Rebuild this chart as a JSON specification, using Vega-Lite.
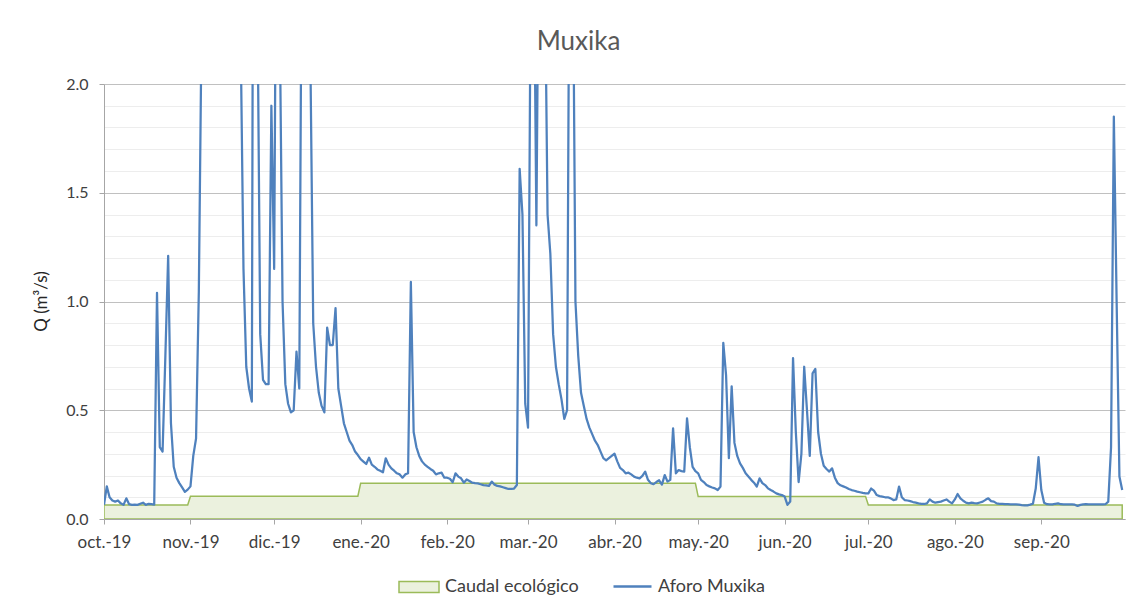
{
"$schema": "https://vega.github.io/schema/vega-lite/v6.json",
"width": 1021, "height": 435,
"autosize": {"type": "none"},
"padding": {"left": 104, "top": 84, "right": 19, "bottom": 95},
"background": "white",
"config": {"font": "Lato", "view": {"stroke": null}},
"title": {"text": "Muxika", "fontSize": 26, "font": "Lato", "fontWeight": "normal", "color": "#595959", "anchor": "middle", "dx": -36, "offset": 0, "baseline": "alphabetic"},
"data": {"values": [
{"f":"2019-10-01","q":0.065,"c":0.064},{"f":"2019-10-02","q":0.15,"c":0.064},{"f":"2019-10-03","q":0.10,"c":0.064},{"f":"2019-10-04","q":0.085,"c":0.064},{"f":"2019-10-05","q":0.08,"c":0.064},{"f":"2019-10-06","q":0.085,"c":0.064},{"f":"2019-10-07","q":0.072,"c":0.064},{"f":"2019-10-08","q":0.065,"c":0.064},{"f":"2019-10-09","q":0.095,"c":0.064},{"f":"2019-10-10","q":0.068,"c":0.064},{"f":"2019-10-11","q":0.065,"c":0.064},{"f":"2019-10-12","q":0.066,"c":0.064},{"f":"2019-10-13","q":0.065,"c":0.064},{"f":"2019-10-14","q":0.07,"c":0.064},{"f":"2019-10-15","q":0.075,"c":0.064},{"f":"2019-10-16","q":0.065,"c":0.064},{"f":"2019-10-17","q":0.07,"c":0.064},{"f":"2019-10-18","q":0.068,"c":0.064},{"f":"2019-10-19","q":0.066,"c":0.064},{"f":"2019-10-20","q":1.04,"c":0.064},{"f":"2019-10-21","q":0.33,"c":0.064},{"f":"2019-10-22","q":0.31,"c":0.064},{"f":"2019-10-23","q":0.75,"c":0.064},{"f":"2019-10-24","q":1.21,"c":0.064},{"f":"2019-10-25","q":0.44,"c":0.064},{"f":"2019-10-26","q":0.24,"c":0.064},{"f":"2019-10-27","q":0.19,"c":0.064},{"f":"2019-10-28","q":0.165,"c":0.064},{"f":"2019-10-29","q":0.145,"c":0.064},{"f":"2019-10-30","q":0.125,"c":0.064},{"f":"2019-10-31","q":0.135,"c":0.064},
{"f":"2019-11-01","q":0.15,"c":0.105},{"f":"2019-11-02","q":0.29,"c":0.105},{"f":"2019-11-03","q":0.37,"c":0.105},{"f":"2019-11-04","q":1.05,"c":0.105},{"f":"2019-11-05","q":2.3,"c":0.105},{"f":"2019-11-06","q":4.5,"c":0.105},{"f":"2019-11-07","q":3.8,"c":0.105},{"f":"2019-11-08","q":5.2,"c":0.105},{"f":"2019-11-09","q":6.0,"c":0.105},{"f":"2019-11-10","q":4.2,"c":0.105},{"f":"2019-11-11","q":3.4,"c":0.105},{"f":"2019-11-12","q":4.8,"c":0.105},{"f":"2019-11-13","q":3.6,"c":0.105},{"f":"2019-11-14","q":3.0,"c":0.105},{"f":"2019-11-15","q":5.0,"c":0.105},{"f":"2019-11-16","q":3.8,"c":0.105},{"f":"2019-11-17","q":3.1,"c":0.105},{"f":"2019-11-18","q":2.7,"c":0.105},{"f":"2019-11-19","q":2.2,"c":0.105},{"f":"2019-11-20","q":1.15,"c":0.105},{"f":"2019-11-21","q":0.7,"c":0.105},{"f":"2019-11-22","q":0.6,"c":0.105},{"f":"2019-11-23","q":0.54,"c":0.105},{"f":"2019-11-24","q":6.0,"c":0.105},{"f":"2019-11-25","q":2.4,"c":0.105},{"f":"2019-11-26","q":0.85,"c":0.105},{"f":"2019-11-27","q":0.64,"c":0.105},{"f":"2019-11-28","q":0.62,"c":0.105},{"f":"2019-11-29","q":0.62,"c":0.105},{"f":"2019-11-30","q":1.90,"c":0.105},
{"f":"2019-12-01","q":1.15,"c":0.105},{"f":"2019-12-02","q":3.5,"c":0.105},{"f":"2019-12-03","q":2.3,"c":0.105},{"f":"2019-12-04","q":1.0,"c":0.105},{"f":"2019-12-05","q":0.62,"c":0.105},{"f":"2019-12-06","q":0.53,"c":0.105},{"f":"2019-12-07","q":0.49,"c":0.105},{"f":"2019-12-08","q":0.50,"c":0.105},{"f":"2019-12-09","q":0.77,"c":0.105},{"f":"2019-12-10","q":0.60,"c":0.105},{"f":"2019-12-11","q":3.0,"c":0.105},{"f":"2019-12-12","q":5.0,"c":0.105},{"f":"2019-12-13","q":3.5,"c":0.105},{"f":"2019-12-14","q":2.1,"c":0.105},{"f":"2019-12-15","q":0.9,"c":0.105},{"f":"2019-12-16","q":0.7,"c":0.105},{"f":"2019-12-17","q":0.58,"c":0.105},{"f":"2019-12-18","q":0.52,"c":0.105},{"f":"2019-12-19","q":0.49,"c":0.105},{"f":"2019-12-20","q":0.88,"c":0.105},{"f":"2019-12-21","q":0.80,"c":0.105},{"f":"2019-12-22","q":0.80,"c":0.105},{"f":"2019-12-23","q":0.97,"c":0.105},{"f":"2019-12-24","q":0.60,"c":0.105},{"f":"2019-12-25","q":0.52,"c":0.105},{"f":"2019-12-26","q":0.44,"c":0.105},{"f":"2019-12-27","q":0.40,"c":0.105},{"f":"2019-12-28","q":0.36,"c":0.105},{"f":"2019-12-29","q":0.34,"c":0.105},{"f":"2019-12-30","q":0.31,"c":0.105},{"f":"2019-12-31","q":0.294,"c":0.105},
{"f":"2020-01-01","q":0.275,"c":0.164},{"f":"2020-01-02","q":0.264,"c":0.164},{"f":"2020-01-03","q":0.253,"c":0.164},{"f":"2020-01-04","q":0.282,"c":0.164},{"f":"2020-01-05","q":0.25,"c":0.164},{"f":"2020-01-06","q":0.24,"c":0.164},{"f":"2020-01-07","q":0.228,"c":0.164},{"f":"2020-01-08","q":0.222,"c":0.164},{"f":"2020-01-09","q":0.215,"c":0.164},{"f":"2020-01-10","q":0.279,"c":0.164},{"f":"2020-01-11","q":0.25,"c":0.164},{"f":"2020-01-12","q":0.233,"c":0.164},{"f":"2020-01-13","q":0.222,"c":0.164},{"f":"2020-01-14","q":0.21,"c":0.164},{"f":"2020-01-15","q":0.205,"c":0.164},{"f":"2020-01-16","q":0.19,"c":0.164},{"f":"2020-01-17","q":0.205,"c":0.164},{"f":"2020-01-18","q":0.21,"c":0.164},{"f":"2020-01-19","q":1.09,"c":0.164},{"f":"2020-01-20","q":0.40,"c":0.164},{"f":"2020-01-21","q":0.33,"c":0.164},{"f":"2020-01-22","q":0.29,"c":0.164},{"f":"2020-01-23","q":0.265,"c":0.164},{"f":"2020-01-24","q":0.25,"c":0.164},{"f":"2020-01-25","q":0.24,"c":0.164},{"f":"2020-01-26","q":0.23,"c":0.164},{"f":"2020-01-27","q":0.222,"c":0.164},{"f":"2020-01-28","q":0.205,"c":0.164},{"f":"2020-01-29","q":0.21,"c":0.164},{"f":"2020-01-30","q":0.213,"c":0.164},{"f":"2020-01-31","q":0.19,"c":0.164},
{"f":"2020-02-01","q":0.19,"c":0.164},{"f":"2020-02-02","q":0.185,"c":0.164},{"f":"2020-02-03","q":0.169,"c":0.164},{"f":"2020-02-04","q":0.21,"c":0.164},{"f":"2020-02-05","q":0.195,"c":0.164},{"f":"2020-02-06","q":0.187,"c":0.164},{"f":"2020-02-07","q":0.167,"c":0.164},{"f":"2020-02-08","q":0.182,"c":0.164},{"f":"2020-02-09","q":0.175,"c":0.164},{"f":"2020-02-10","q":0.167,"c":0.164},{"f":"2020-02-11","q":0.165,"c":0.164},{"f":"2020-02-12","q":0.164,"c":0.164},{"f":"2020-02-13","q":0.16,"c":0.164},{"f":"2020-02-14","q":0.156,"c":0.164},{"f":"2020-02-15","q":0.155,"c":0.164},{"f":"2020-02-16","q":0.152,"c":0.164},{"f":"2020-02-17","q":0.172,"c":0.164},{"f":"2020-02-18","q":0.158,"c":0.164},{"f":"2020-02-19","q":0.152,"c":0.164},{"f":"2020-02-20","q":0.15,"c":0.164},{"f":"2020-02-21","q":0.146,"c":0.164},{"f":"2020-02-22","q":0.142,"c":0.164},{"f":"2020-02-23","q":0.138,"c":0.164},{"f":"2020-02-24","q":0.138,"c":0.164},{"f":"2020-02-25","q":0.14,"c":0.164},{"f":"2020-02-26","q":0.156,"c":0.164},{"f":"2020-02-27","q":1.61,"c":0.164},{"f":"2020-02-28","q":1.40,"c":0.164},{"f":"2020-02-29","q":0.53,"c":0.164},
{"f":"2020-03-01","q":0.42,"c":0.164},{"f":"2020-03-02","q":2.6,"c":0.164},{"f":"2020-03-03","q":2.8,"c":0.164},{"f":"2020-03-04","q":1.35,"c":0.164},{"f":"2020-03-05","q":3.0,"c":0.164},{"f":"2020-03-06","q":4.5,"c":0.164},{"f":"2020-03-07","q":2.6,"c":0.164},{"f":"2020-03-08","q":1.40,"c":0.164},{"f":"2020-03-09","q":1.22,"c":0.164},{"f":"2020-03-10","q":0.85,"c":0.164},{"f":"2020-03-11","q":0.70,"c":0.164},{"f":"2020-03-12","q":0.62,"c":0.164},{"f":"2020-03-13","q":0.55,"c":0.164},{"f":"2020-03-14","q":0.46,"c":0.164},{"f":"2020-03-15","q":0.50,"c":0.164},{"f":"2020-03-16","q":3.2,"c":0.164},{"f":"2020-03-17","q":2.8,"c":0.164},{"f":"2020-03-18","q":1.0,"c":0.164},{"f":"2020-03-19","q":0.75,"c":0.164},{"f":"2020-03-20","q":0.58,"c":0.164},{"f":"2020-03-21","q":0.52,"c":0.164},{"f":"2020-03-22","q":0.46,"c":0.164},{"f":"2020-03-23","q":0.42,"c":0.164},{"f":"2020-03-24","q":0.39,"c":0.164},{"f":"2020-03-25","q":0.36,"c":0.164},{"f":"2020-03-26","q":0.34,"c":0.164},{"f":"2020-03-27","q":0.31,"c":0.164},{"f":"2020-03-28","q":0.28,"c":0.164},{"f":"2020-03-29","q":0.27,"c":0.164},{"f":"2020-03-30","q":0.28,"c":0.164},{"f":"2020-03-31","q":0.29,"c":0.164},
{"f":"2020-04-01","q":0.30,"c":0.164},{"f":"2020-04-02","q":0.265,"c":0.164},{"f":"2020-04-03","q":0.235,"c":0.164},{"f":"2020-04-04","q":0.225,"c":0.164},{"f":"2020-04-05","q":0.21,"c":0.164},{"f":"2020-04-06","q":0.213,"c":0.164},{"f":"2020-04-07","q":0.205,"c":0.164},{"f":"2020-04-08","q":0.195,"c":0.164},{"f":"2020-04-09","q":0.19,"c":0.164},{"f":"2020-04-10","q":0.187,"c":0.164},{"f":"2020-04-11","q":0.198,"c":0.164},{"f":"2020-04-12","q":0.218,"c":0.164},{"f":"2020-04-13","q":0.18,"c":0.164},{"f":"2020-04-14","q":0.165,"c":0.164},{"f":"2020-04-15","q":0.16,"c":0.164},{"f":"2020-04-16","q":0.17,"c":0.164},{"f":"2020-04-17","q":0.178,"c":0.164},{"f":"2020-04-18","q":0.158,"c":0.164},{"f":"2020-04-19","q":0.202,"c":0.164},{"f":"2020-04-20","q":0.172,"c":0.164},{"f":"2020-04-21","q":0.18,"c":0.164},{"f":"2020-04-22","q":0.417,"c":0.164},{"f":"2020-04-23","q":0.21,"c":0.164},{"f":"2020-04-24","q":0.225,"c":0.164},{"f":"2020-04-25","q":0.22,"c":0.164},{"f":"2020-04-26","q":0.218,"c":0.164},{"f":"2020-04-27","q":0.463,"c":0.164},{"f":"2020-04-28","q":0.33,"c":0.164},{"f":"2020-04-29","q":0.24,"c":0.164},{"f":"2020-04-30","q":0.22,"c":0.164},
{"f":"2020-05-01","q":0.21,"c":0.103},{"f":"2020-05-02","q":0.18,"c":0.103},{"f":"2020-05-03","q":0.17,"c":0.103},{"f":"2020-05-04","q":0.156,"c":0.103},{"f":"2020-05-05","q":0.15,"c":0.103},{"f":"2020-05-06","q":0.145,"c":0.103},{"f":"2020-05-07","q":0.141,"c":0.103},{"f":"2020-05-08","q":0.133,"c":0.103},{"f":"2020-05-09","q":0.149,"c":0.103},{"f":"2020-05-10","q":0.81,"c":0.103},{"f":"2020-05-11","q":0.66,"c":0.103},{"f":"2020-05-12","q":0.28,"c":0.103},{"f":"2020-05-13","q":0.61,"c":0.103},{"f":"2020-05-14","q":0.35,"c":0.103},{"f":"2020-05-15","q":0.29,"c":0.103},{"f":"2020-05-16","q":0.256,"c":0.103},{"f":"2020-05-17","q":0.235,"c":0.103},{"f":"2020-05-18","q":0.21,"c":0.103},{"f":"2020-05-19","q":0.195,"c":0.103},{"f":"2020-05-20","q":0.18,"c":0.103},{"f":"2020-05-21","q":0.167,"c":0.103},{"f":"2020-05-22","q":0.149,"c":0.103},{"f":"2020-05-23","q":0.187,"c":0.103},{"f":"2020-05-24","q":0.165,"c":0.103},{"f":"2020-05-25","q":0.156,"c":0.103},{"f":"2020-05-26","q":0.141,"c":0.103},{"f":"2020-05-27","q":0.133,"c":0.103},{"f":"2020-05-28","q":0.126,"c":0.103},{"f":"2020-05-29","q":0.118,"c":0.103},{"f":"2020-05-30","q":0.113,"c":0.103},{"f":"2020-05-31","q":0.11,"c":0.103},
{"f":"2020-06-01","q":0.103,"c":0.103},{"f":"2020-06-02","q":0.065,"c":0.103},{"f":"2020-06-03","q":0.08,"c":0.103},{"f":"2020-06-04","q":0.74,"c":0.103},{"f":"2020-06-05","q":0.40,"c":0.103},{"f":"2020-06-06","q":0.17,"c":0.103},{"f":"2020-06-07","q":0.30,"c":0.103},{"f":"2020-06-08","q":0.70,"c":0.103},{"f":"2020-06-09","q":0.50,"c":0.103},{"f":"2020-06-10","q":0.29,"c":0.103},{"f":"2020-06-11","q":0.67,"c":0.103},{"f":"2020-06-12","q":0.69,"c":0.103},{"f":"2020-06-13","q":0.40,"c":0.103},{"f":"2020-06-14","q":0.30,"c":0.103},{"f":"2020-06-15","q":0.245,"c":0.103},{"f":"2020-06-16","q":0.23,"c":0.103},{"f":"2020-06-17","q":0.218,"c":0.103},{"f":"2020-06-18","q":0.233,"c":0.103},{"f":"2020-06-19","q":0.19,"c":0.103},{"f":"2020-06-20","q":0.165,"c":0.103},{"f":"2020-06-21","q":0.155,"c":0.103},{"f":"2020-06-22","q":0.15,"c":0.103},{"f":"2020-06-23","q":0.145,"c":0.103},{"f":"2020-06-24","q":0.138,"c":0.103},{"f":"2020-06-25","q":0.133,"c":0.103},{"f":"2020-06-26","q":0.13,"c":0.103},{"f":"2020-06-27","q":0.126,"c":0.103},{"f":"2020-06-28","q":0.123,"c":0.103},{"f":"2020-06-29","q":0.12,"c":0.103},{"f":"2020-06-30","q":0.118,"c":0.103},
{"f":"2020-07-01","q":0.118,"c":0.064},{"f":"2020-07-02","q":0.14,"c":0.064},{"f":"2020-07-03","q":0.13,"c":0.064},{"f":"2020-07-04","q":0.11,"c":0.064},{"f":"2020-07-05","q":0.105,"c":0.064},{"f":"2020-07-06","q":0.103,"c":0.064},{"f":"2020-07-07","q":0.10,"c":0.064},{"f":"2020-07-08","q":0.10,"c":0.064},{"f":"2020-07-09","q":0.095,"c":0.064},{"f":"2020-07-10","q":0.087,"c":0.064},{"f":"2020-07-11","q":0.09,"c":0.064},{"f":"2020-07-12","q":0.149,"c":0.064},{"f":"2020-07-13","q":0.10,"c":0.064},{"f":"2020-07-14","q":0.087,"c":0.064},{"f":"2020-07-15","q":0.085,"c":0.064},{"f":"2020-07-16","q":0.082,"c":0.064},{"f":"2020-07-17","q":0.078,"c":0.064},{"f":"2020-07-18","q":0.075,"c":0.064},{"f":"2020-07-19","q":0.072,"c":0.064},{"f":"2020-07-20","q":0.07,"c":0.064},{"f":"2020-07-21","q":0.069,"c":0.064},{"f":"2020-07-22","q":0.072,"c":0.064},{"f":"2020-07-23","q":0.09,"c":0.064},{"f":"2020-07-24","q":0.08,"c":0.064},{"f":"2020-07-25","q":0.075,"c":0.064},{"f":"2020-07-26","q":0.078,"c":0.064},{"f":"2020-07-27","q":0.08,"c":0.064},{"f":"2020-07-28","q":0.085,"c":0.064},{"f":"2020-07-29","q":0.09,"c":0.064},{"f":"2020-07-30","q":0.08,"c":0.064},{"f":"2020-07-31","q":0.072,"c":0.064},
{"f":"2020-08-01","q":0.09,"c":0.064},{"f":"2020-08-02","q":0.115,"c":0.064},{"f":"2020-08-03","q":0.095,"c":0.064},{"f":"2020-08-04","q":0.084,"c":0.064},{"f":"2020-08-05","q":0.075,"c":0.064},{"f":"2020-08-06","q":0.072,"c":0.064},{"f":"2020-08-07","q":0.075,"c":0.064},{"f":"2020-08-08","q":0.073,"c":0.064},{"f":"2020-08-09","q":0.072,"c":0.064},{"f":"2020-08-10","q":0.076,"c":0.064},{"f":"2020-08-11","q":0.08,"c":0.064},{"f":"2020-08-12","q":0.088,"c":0.064},{"f":"2020-08-13","q":0.095,"c":0.064},{"f":"2020-08-14","q":0.082,"c":0.064},{"f":"2020-08-15","q":0.08,"c":0.064},{"f":"2020-08-16","q":0.072,"c":0.064},{"f":"2020-08-17","q":0.07,"c":0.064},{"f":"2020-08-18","q":0.069,"c":0.064},{"f":"2020-08-19","q":0.068,"c":0.064},{"f":"2020-08-20","q":0.068,"c":0.064},{"f":"2020-08-21","q":0.067,"c":0.064},{"f":"2020-08-22","q":0.067,"c":0.064},{"f":"2020-08-23","q":0.067,"c":0.064},{"f":"2020-08-24","q":0.066,"c":0.064},{"f":"2020-08-25","q":0.064,"c":0.064},{"f":"2020-08-26","q":0.063,"c":0.064},{"f":"2020-08-27","q":0.063,"c":0.064},{"f":"2020-08-28","q":0.066,"c":0.064},{"f":"2020-08-29","q":0.07,"c":0.064},{"f":"2020-08-30","q":0.14,"c":0.064},{"f":"2020-08-31","q":0.284,"c":0.064},
{"f":"2020-09-01","q":0.133,"c":0.064},{"f":"2020-09-02","q":0.075,"c":0.064},{"f":"2020-09-03","q":0.068,"c":0.064},{"f":"2020-09-04","q":0.067,"c":0.064},{"f":"2020-09-05","q":0.067,"c":0.064},{"f":"2020-09-06","q":0.07,"c":0.064},{"f":"2020-09-07","q":0.072,"c":0.064},{"f":"2020-09-08","q":0.068,"c":0.064},{"f":"2020-09-09","q":0.067,"c":0.064},{"f":"2020-09-10","q":0.067,"c":0.064},{"f":"2020-09-11","q":0.067,"c":0.064},{"f":"2020-09-12","q":0.067,"c":0.064},{"f":"2020-09-13","q":0.066,"c":0.064},{"f":"2020-09-14","q":0.06,"c":0.064},{"f":"2020-09-15","q":0.065,"c":0.064},{"f":"2020-09-16","q":0.067,"c":0.064},{"f":"2020-09-17","q":0.068,"c":0.064},{"f":"2020-09-18","q":0.067,"c":0.064},{"f":"2020-09-19","q":0.067,"c":0.064},{"f":"2020-09-20","q":0.067,"c":0.064},{"f":"2020-09-21","q":0.067,"c":0.064},{"f":"2020-09-22","q":0.067,"c":0.064},{"f":"2020-09-23","q":0.067,"c":0.064},{"f":"2020-09-24","q":0.068,"c":0.064},{"f":"2020-09-25","q":0.08,"c":0.064},{"f":"2020-09-26","q":0.33,"c":0.064},{"f":"2020-09-27","q":1.85,"c":0.064},{"f":"2020-09-28","q":1.0,"c":0.064},{"f":"2020-09-29","q":0.195,"c":0.064},{"f":"2020-09-30","q":0.133,"c":0.064}
]},
"encoding": {
  "x": {"field": "f", "type": "temporal",
    "scale": {"type": "utc", "domain": [{"year": 2019, "month": 10, "date": 1, "utc": true}, {"year": 2020, "month": 10, "date": 1, "utc": true}]},
    "axis": {"title": null, "grid": false, "labelAngle": 0, "labelAlign": "center", "labelFontSize": 17, "labelColor": "#404040", "labelPadding": 10, "tickSize": 5, "tickColor": "#a6a6a6", "domainColor": "#a6a6a6",
      "values": [{"year":2019,"month":10,"date":1,"utc":true},{"year":2019,"month":11,"date":1,"utc":true},{"year":2019,"month":12,"date":1,"utc":true},{"year":2020,"month":1,"date":1,"utc":true},{"year":2020,"month":2,"date":1,"utc":true},{"year":2020,"month":3,"date":1,"utc":true},{"year":2020,"month":4,"date":1,"utc":true},{"year":2020,"month":5,"date":1,"utc":true},{"year":2020,"month":6,"date":1,"utc":true},{"year":2020,"month":7,"date":1,"utc":true},{"year":2020,"month":8,"date":1,"utc":true},{"year":2020,"month":9,"date":1,"utc":true}],
      "labelExpr": "['ene','feb','mar','abr','may','jun','jul','ago','sep','oct','nov','dic'][utcmonth(datum.value)] + '.-' + utcFormat(datum.value, '%y')"}
  }
},
"layer": [
  {
    "mark": {"type": "area", "stroke": "#9bbb59", "strokeWidth": 1.5, "clip": true},
    "encoding": {
      "y": {"field": "c", "type": "quantitative", "scale": {"domain": [0, 2], "nice": false, "zero": true},
        "axis": {"orient": "left", "values": [0.1,0.2,0.3,0.4,0.6,0.7,0.8,0.9,1.1,1.2,1.3,1.4,1.6,1.7,1.8,1.9], "grid": true, "gridColor": "#ededed", "labels": false, "ticks": false, "domain": false, "title": null}},
      "fill": {"datum": "Caudal ecológico", "type": "nominal",
        "scale": {"domain": ["Caudal ecológico"], "range": ["#ebf1de"]},
        "legend": {"orient": "none", "legendX": 294, "legendY": 482, "title": null, "symbolType": "M-1,-0.28H1V0.28H-1Z", "symbolSize": 1600, "symbolFillColor": "#ebf1de", "symbolStrokeColor": "#9bbb59", "symbolStrokeWidth": 1.5, "labelFontSize": 18, "labelColor": "#404040", "labelOffset": 5,
          "encode": {"symbols": {"update": {"stroke": {"value": "#9bbb59"}, "strokeWidth": {"value": 1.5}, "fill": {"value": "#ebf1de"}, "opacity": {"value": 1}}}}}
      }
    }
  },
  {
    "mark": {"type": "line", "strokeWidth": 2.25, "strokeJoin": "round", "clip": true},
    "encoding": {
      "y": {"field": "q", "type": "quantitative", "scale": {"domain": [0, 2], "nice": false, "zero": true},
        "axis": {"orient": "left", "values": [0, 0.5, 1, 1.5, 2], "format": ".1f", "grid": true, "gridColor": "#c0c0c0", "tickSize": 5, "tickColor": "#a6a6a6", "domainColor": "#a6a6a6", "labelFontSize": 16, "labelColor": "#404040", "labelPadding": 11,
          "title": "Q (m³/s)", "titleFontSize": 17, "titleFontWeight": "normal", "titleColor": "#262626", "titleX": -63, "titleY": 217, "titleAngle": -90, "titleBaseline": "middle", "titleAlign": "center"}},
      "stroke": {"datum": "Aforo Muxika", "type": "nominal",
        "scale": {"domain": ["Aforo Muxika"], "range": ["#4f81bd"]},
        "legend": {"orient": "none", "legendX": 508, "legendY": 482, "title": null, "symbolType": "stroke", "symbolSize": 1444, "symbolStrokeWidth": 2.5, "labelFontSize": 18, "labelColor": "#404040", "labelOffset": 5}
      }
    }
  }
],
"resolve": {"axis": {"y": "independent"}}
}
